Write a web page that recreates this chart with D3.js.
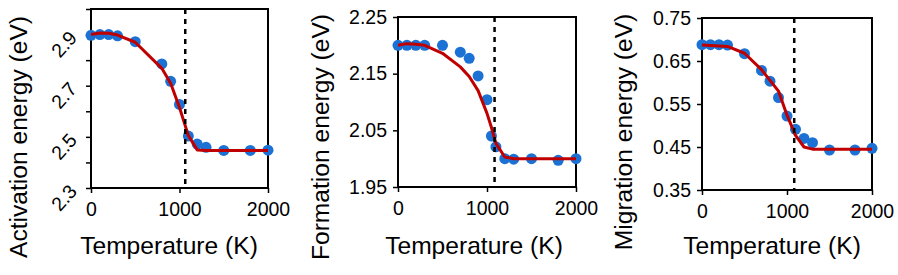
<!DOCTYPE html>
<html lang="en">
<head>
<meta charset="utf-8">
<script src="https://d3js.org/d3.v7.min.js"></script>
<style>
  body { margin:0; background:#fff; }
  svg { display:block; font-family:"Liberation Sans", Arial, sans-serif; }
  .frame { fill:none; stroke:#000; stroke-width:2; }
  .axis path, .axis line { stroke:#000; stroke-width:1.5; }
  .axis text { font-size:19.5px; fill:#000; }
  .title { font-size:24.6px; fill:#000; }
</style>
<title>Energies vs temperature</title>
</head>
<body>
<script>
// --- data ---
const actTemps  = [0,100,200,300,500,800,900,1000,1100,1200,1300,1500,1800,2000];
const actPoints = [2.897,2.9,2.9,2.895,2.872,2.785,2.717,2.627,2.503,2.472,2.459,2.447,2.447,2.448];
const actFit    = [2.9,2.906,2.905,2.898,2.87,2.768,2.71,2.615,2.505,2.449,2.447,2.447,2.447,2.447];

const formTemps  = [0,100,200,300,500,700,800,900,1000,1050,1100,1200,1300,1500,1800,2000];
const formPoints = [2.2,2.2,2.2,2.2,2.2,2.188,2.177,2.146,2.104,2.04,2.021,2.0,1.999,2.0,1.997,2.0];
const formFit    = [2.2,2.203,2.202,2.2,2.186,2.162,2.145,2.12,2.08,2.055,2.027,2.003,2.0,2.0,2.0,2.0];

const migTemps  = [0,100,200,300,500,700,800,900,1000,1100,1200,1300,1500,1800,2000];
const migPoints = [0.688,0.688,0.688,0.687,0.667,0.628,0.603,0.565,0.522,0.491,0.47,0.46,0.443,0.443,0.447];
const migFit    = [0.687,0.686,0.685,0.684,0.668,0.63,0.605,0.58,0.524,0.477,0.45,0.445,0.445,0.445,0.445];

const xTicks = [0,1000,2000];
const actTicks  = [2.3,2.4,2.5,2.6,2.7,2.8,2.9,3.0];
const actLabels = [2.3,2.5,2.7,2.9];
const formTicks = [1.95,2.05,2.15,2.25];
const migTicks  = [0.35,0.45,0.55,0.65,0.75];

const transitionT = [1065,1085,1085];
const yTitles = ["Activation energy (eV)","Formation energy (eV)","Migration energy (eV)"];
const xTitle = "Temperature (K)";

// --- layout ---
const W = 898, H = 275;
const panels = [
  {temps:actTemps, pts:actPoints, fit:actFit, ydom:[2.3,3.0], ticks:actTicks, labels:actLabels, rotate:true,
   x0:91, x1:268, y0:9, y1:188, ytx:27, yty:137, xtx:169},
  {temps:formTemps, pts:formPoints, fit:formFit, ydom:[1.95,2.25], ticks:formTicks, labels:formTicks, rotate:false,
   x0:398, x1:576, y0:17, y1:187, ytx:329, yty:137, xtx:474},
  {temps:migTemps, pts:migPoints, fit:migFit, ydom:[0.35,0.75], ticks:migTicks, labels:migTicks, rotate:false,
   x0:702, x1:872, y0:18, y1:190, ytx:632, yty:132, xtx:772}
];

const svg = d3.select("body").append("svg")
  .attr("width", W).attr("height", H);

panels.forEach((p, i) => {
  const x = d3.scaleLinear().domain([0,2000]).range([p.x0, p.x1]);
  const y = d3.scaleLinear().domain(p.ydom).range([p.y1, p.y0]);
  const g = svg.append("g");

  // x axis
  g.append("g").attr("class","axis")
    .attr("transform", `translate(0,${p.y1})`)
    .call(d3.axisBottom(x).tickValues(xTicks).tickSize(5).tickPadding(9).tickFormat(d3.format("d")))
    .call(a => a.select(".domain").remove());

  // y axis
  const fmt = i === 0 ? d3.format(".1f") : d3.format(".2f");
  const yAxis = g.append("g").attr("class","axis")
    .attr("transform", `translate(${p.x0},0)`)
    .call(d3.axisLeft(y).tickValues(p.ticks).tickSize(5).tickPadding(6)
      .tickFormat(d => p.labels.some(l => Math.abs(l - d) < 1e-9) ? fmt(d) : ""))
    .call(a => a.select(".domain").remove());

  if (p.rotate) {
    yAxis.selectAll("text")
      .attr("x", null).attr("dy", "0.35em")
      .attr("text-anchor", "end")
      .attr("transform", "translate(-18,-1) rotate(-48)");
  }

  // frame
  g.append("rect").attr("class","frame")
    .attr("x", p.x0).attr("y", p.y0)
    .attr("width", p.x1 - p.x0).attr("height", p.y1 - p.y0);

  // dots
  g.append("g").selectAll("circle")
    .data(p.temps.map((t, k) => [t, p.pts[k]]))
    .join("circle")
    .attr("cx", d => x(d[0])).attr("cy", d => y(d[1]))
    .attr("r", 5.5).attr("fill", "#1c72d4");

  // fit line
  g.append("path")
    .datum(p.temps.map((t, k) => [t, p.fit[k]]))
    .attr("fill","none").attr("stroke","#c00000").attr("stroke-width",3)
    .attr("stroke-linejoin","round")
    .attr("d", d3.line().x(d => x(d[0])).y(d => y(d[1])));

  // transition temperature
  g.append("line")
    .attr("x1", x(transitionT[i])).attr("x2", x(transitionT[i]))
    .attr("y1", p.y0).attr("y2", p.y1)
    .attr("stroke","#000").attr("stroke-width",2.5).attr("stroke-dasharray","5,5");

  // titles
  g.append("text").attr("class","title")
    .attr("x", p.xtx).attr("y", 254)
    .attr("text-anchor","middle").text(xTitle);
  g.append("text").attr("class","title")
    .attr("transform", `translate(${p.ytx},${p.yty}) rotate(-90)`)
    .attr("text-anchor","middle").text(yTitles[i]);
});
</script>
</body>
</html>
